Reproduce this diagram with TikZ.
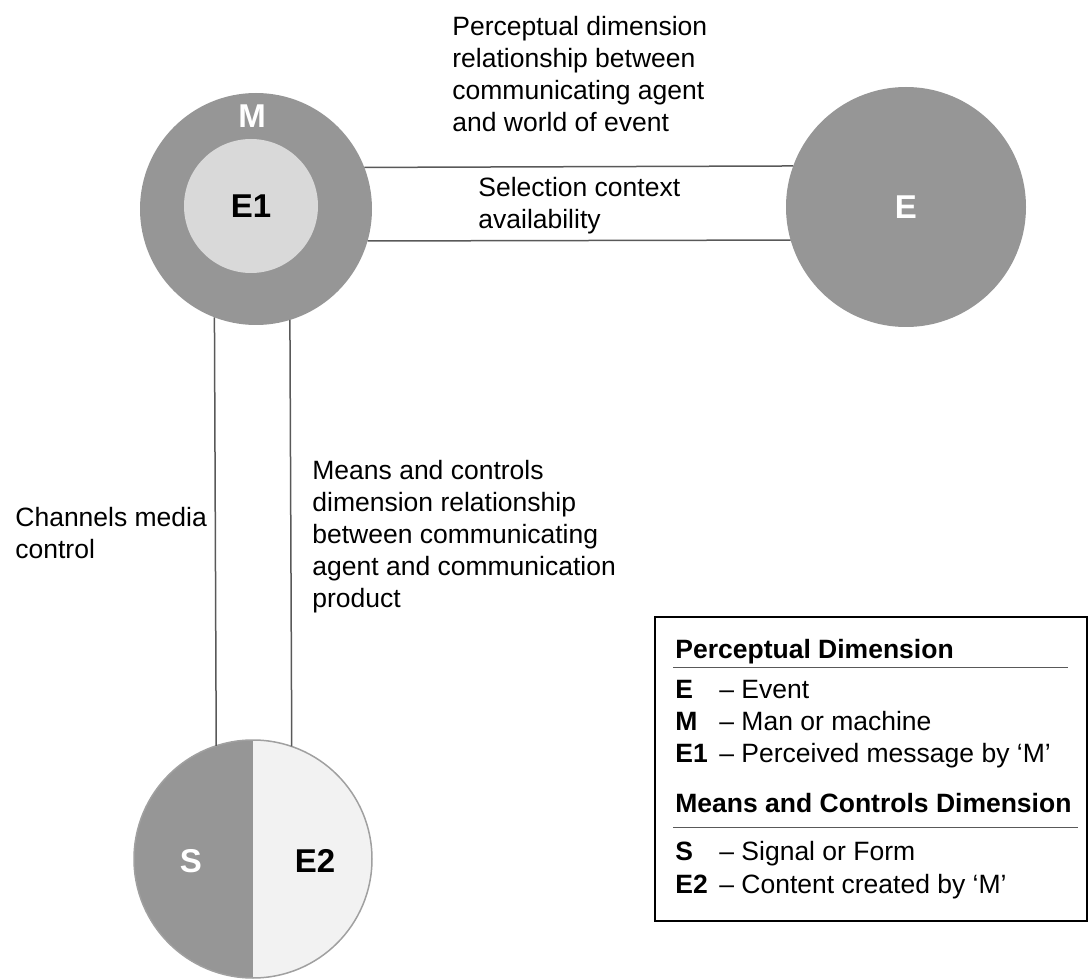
\documentclass[tikz,border=0pt]{standalone}
\usepackage{fontspec}
\setmainfont{Liberation Sans}
\definecolor{discgray}{HTML}{969696}
\definecolor{innergray}{HTML}{D9D9D9}
\definecolor{palegray}{HTML}{F2F2F2}
\definecolor{rimgray}{HTML}{A0A0A0}
\definecolor{linegray}{HTML}{595959}
\begin{document}
\begin{tikzpicture}[x=0.5pt,y=0.5pt,
        disc/.style={circle,inner sep=0pt,outer sep=0pt,fill=discgray,
            font=\fontsize{16.5}{20}\selectfont\bfseries},
        letter/.style={font=\fontsize{16.5}{20}\selectfont\bfseries,inner sep=0pt,anchor=base},
        caption/.style={font=\fontsize{13.25}{16}\selectfont,align=left,inner sep=0pt,anchor=base west},
        keytext/.style={font=\fontsize{13.25}{16}\selectfont\bfseries,inner sep=0pt,anchor=base west},
        desctext/.style={font=\fontsize{13.25}{16}\selectfont,inner sep=0pt,anchor=base west},
        link/.style={linegray,line width=0.75pt},
        rule/.style={linegray,line width=0.5pt}]
        \useasboundingbox (0,0) rectangle (1089,-979);
        %% circles
        \node[disc,minimum size=116pt] (M) at (256,-209) {};
        \node[disc,minimum size=67pt,fill=innergray] (E1) at (251,-206) {E1};
        \node[disc,minimum size=120pt,text=white] (E) at (906,-207) {E};
        \node[disc,minimum size=119pt,fill=palegray,draw=rimgray,line width=0.75pt,
            path picture={\fill[discgray] (path picture bounding box.south west)
                rectangle (path picture bounding box.north);}] (S) at (253,-859) {};
        \node[letter,white] (Mtxt) at (252,-128) {M};
        \node[letter,white] (Stxt) at (191,-872) {S};
        \node[letter] (E2txt) at (315,-872) {E2};
        %% links
        \draw[link] (M.21.23) -- (E.160.53);
        \draw[link] (M.-16.53) -- (E.196.96);
        \draw[link] (M.249.83) -- (S.108.11);
        \draw[link] (M.287.56) -- (S.71.38);
        %% captions (base = last line)
        \node[caption] (perc) at (452,-132) {Perceptual dimension\\relationship between\\communicating agent\\and world of event};
        \node[caption] (sel) at (478,-228) {Selection context\\availability};
        \node[caption] (means) at (312,-607) {Means and controls\\dimension relationship\\between communicating\\agent and communication\\product};
        \node[caption] (chan) at (15,-558) {Channels media\\control};
        %% legend
        \node[draw=black,line width=1.35pt,minimum width=216pt,minimum height=152pt,inner sep=0pt] (legend) at (871,-769) {};
        \node[keytext] (hdPerc) at (675,-658) {Perceptual Dimension};
        \draw[rule] (673,-667) -- (1068,-667);
        \foreach \key/\desc/\y in {E/Event/698, M/Man or machine/730, E1/Perceived message by ‘M’/762}
            {
            \node[keytext] (key\key) at (675,-\y) {\key};
            \node[desctext] (desc\key) at (719,-\y) {– \desc};
            }
        \node[keytext] (hdMeans) at (675,-812) {Means and Controls Dimension};
        \draw[rule] (673,-827) -- (1078,-827);
        \foreach \key/\desc/\y in {S/Signal or Form/860, E2/Content created by ‘M’/893}
            {
            \node[keytext] (key\key) at (675,-\y) {\key};
            \node[desctext] (desc\key) at (719,-\y) {– \desc};
            }
    \end{tikzpicture}
\end{document}
